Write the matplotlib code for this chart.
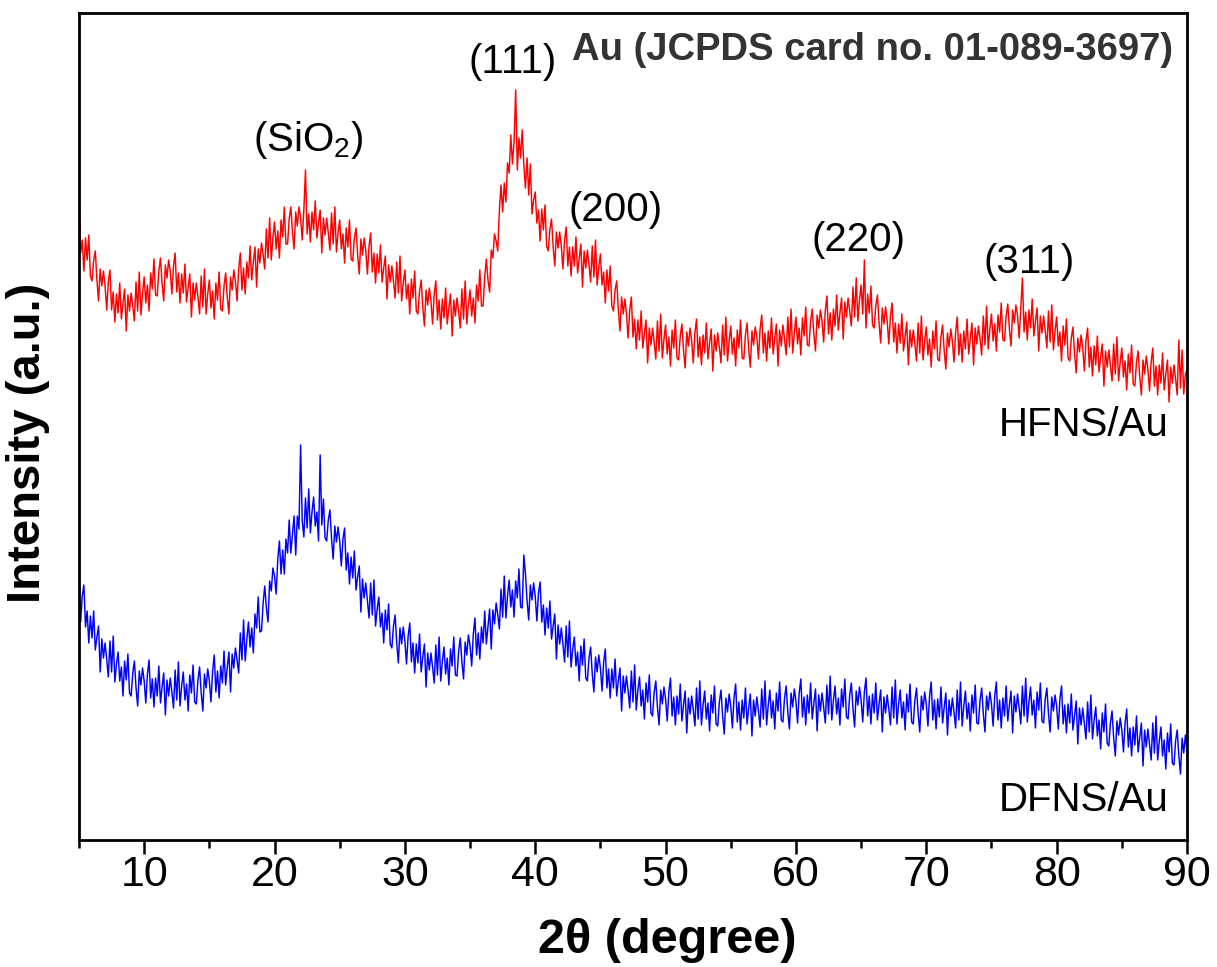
import numpy as np
import matplotlib.pyplot as plt

plt.rcParams['font.family'] = ['Liberation Sans', 'DejaVu Sans']
plt.rcParams['mathtext.fontset'] = 'custom'
plt.rcParams['mathtext.rm'] = 'Liberation Sans'

# 2-theta scan, 5 to 90 degree in 0.125 degree steps
two_theta = np.arange(5.0, 90.0001, 0.125)

# HFNS/Au intensity (arbitrary units, offset trace), one row per degree
hfns_au = [
    650, 587, 600, 569, 602, 580, 605, 564,   # 5
    559, 580, 589, 560, 539, 571, 554, 569,   # 6
    554, 530, 558, 570, 530, 548, 518, 546,   # 7
    527, 557, 521, 537, 551, 509, 545, 529,   # 8
    547, 534, 519, 558, 529, 568, 525, 547,   # 9
    563, 537, 555, 529, 567, 551, 581, 545,   # 10
    544, 569, 582, 556, 539, 575, 562, 580,   # 11
    569, 546, 574, 587, 548, 567, 537, 566,   # 12
    547, 576, 538, 553, 566, 523, 557, 540,   # 13
    557, 543, 526, 564, 533, 571, 526, 546,   # 14
    560, 532, 549, 521, 557, 540, 568, 531,   # 15
    529, 554, 567, 543, 526, 563, 550, 570,   # 16
    559, 539, 571, 587, 550, 572, 546, 578,   # 17
    562, 594, 560, 578, 593, 553, 591, 577,   # 18
    597, 585, 571, 611, 582, 622, 580, 602,   # 19
    618, 591, 609, 582, 620, 603, 633, 596,   # 20
    596, 621, 633, 608, 591, 628, 614, 633,   # 21
    622, 600, 630, 670, 606, 626, 598, 628,   # 22
    610, 639, 602, 617, 630, 587, 622, 605,   # 23
    622, 607, 590, 627, 596, 633, 588, 607,   # 24
    620, 591, 606, 577, 612, 593, 620, 581,   # 25
    579, 602, 612, 585, 566, 601, 585, 602,   # 26
    589, 566, 594, 607, 568, 587, 557, 586,   # 27
    567, 595, 558, 572, 584, 541, 575, 558,   # 28
    574, 559, 542, 578, 547, 584, 539, 557,   # 29
    570, 541, 556, 526, 561, 542, 569, 529,   # 30
    526, 549, 560, 533, 514, 550, 535, 552,   # 31
    539, 516, 546, 559, 520, 540, 511, 541,   # 32
    522, 552, 516, 532, 546, 504, 540, 524,   # 33
    542, 528, 512, 551, 521, 559, 516, 536,   # 34
    550, 524, 542, 517, 555, 539, 570, 534,   # 35
    534, 563, 581, 560, 548, 590, 582, 606,   # 36
    599, 589, 630, 655, 628, 657, 638, 677,   # 37
    667, 705, 676, 698, 750, 670, 702, 682,   # 38
    710, 675, 652, 682, 645, 676, 626, 640,   # 39
    648, 617, 630, 599, 631, 610, 635, 594,   # 40
    589, 611, 621, 593, 574, 608, 592, 608,   # 41
    594, 571, 600, 613, 574, 593, 564, 593,   # 42
    574, 603, 567, 582, 596, 553, 589, 572,   # 43
    590, 575, 558, 594, 563, 600, 555, 573,   # 44
    586, 555, 568, 537, 570, 549, 574, 534,   # 45
    529, 550, 559, 530, 509, 543, 526, 541,   # 46
    526, 502, 530, 543, 503, 521, 491, 520,   # 47
    500, 529, 492, 507, 520, 477, 512, 495,   # 48
    512, 498, 481, 519, 489, 526, 482, 501,   # 49
    515, 486, 503, 474, 510, 492, 520, 482,   # 50
    480, 504, 516, 490, 472, 508, 494, 512,   # 51
    499, 477, 507, 521, 483, 503, 475, 505,   # 52
    487, 517, 481, 497, 511, 469, 505, 489,   # 53
    507, 493, 477, 515, 485, 523, 479, 499,   # 54
    514, 486, 502, 474, 510, 492, 520, 482,   # 55
    481, 505, 517, 491, 473, 509, 495, 513,   # 56
    503, 481, 511, 525, 487, 507, 479, 509,   # 57
    492, 522, 486, 502, 516, 474, 510, 494,   # 58
    515, 501, 485, 523, 493, 531, 487, 507,   # 59
    523, 496, 512, 485, 522, 504, 533, 495,   # 60
    494, 519, 531, 506, 489, 525, 512, 530,   # 61
    519, 498, 529, 544, 506, 527, 500, 531,   # 62
    514, 545, 510, 527, 542, 501, 538, 523,   # 63
    542, 529, 514, 553, 523, 562, 519, 540,   # 64
    555, 526, 580, 512, 546, 527, 554, 515,   # 65
    512, 534, 545, 517, 497, 532, 516, 533,   # 66
    519, 496, 524, 537, 498, 517, 487, 516,   # 67
    497, 526, 489, 504, 518, 475, 510, 493,   # 68
    510, 496, 479, 517, 487, 524, 480, 499,   # 69
    513, 485, 501, 473, 509, 491, 519, 481,   # 70
    479, 503, 515, 489, 471, 507, 493, 511,   # 71
    499, 478, 508, 523, 485, 506, 478, 509,   # 72
    491, 521, 486, 502, 517, 475, 512, 496,   # 73
    514, 501, 485, 524, 495, 534, 491, 511,   # 74
    526, 499, 516, 489, 525, 508, 537, 500,   # 75
    499, 524, 536, 511, 494, 530, 517, 535,   # 76
    524, 502, 532, 562, 508, 528, 500, 530,   # 77
    512, 541, 504, 519, 532, 489, 524, 507,   # 78
    524, 509, 492, 529, 498, 535, 490, 509,   # 79
    523, 494, 508, 479, 514, 495, 521, 482,   # 80
    479, 502, 513, 486, 467, 502, 488, 505,   # 81
    492, 469, 499, 512, 473, 493, 464, 494,   # 82
    475, 504, 468, 483, 496, 454, 489, 473,   # 83
    490, 475, 459, 496, 466, 503, 459, 478,   # 84
    492, 463, 479, 450, 486, 467, 495, 456,   # 85
    454, 478, 489, 463, 445, 480, 466, 484,   # 86
    471, 449, 478, 492, 454, 474, 445, 475,   # 87
    457, 487, 450, 466, 480, 438, 473, 457,   # 88
    475, 461, 445, 500, 452, 490, 446, 466,   # 89
    470,                                      # 90
]

# DFNS/Au intensity (arbitrary units), one row per degree
dfns_au = [
    268, 218, 244, 255, 213, 229, 197, 224,   # 5
    202, 229, 190, 203, 214, 168, 201, 182,   # 6
    197, 181, 163, 199, 168, 204, 158, 176,   # 7
    188, 159, 173, 144, 179, 160, 186, 147,   # 8
    144, 167, 179, 152, 134, 169, 155, 172,   # 9
    159, 137, 166, 180, 142, 161, 133, 162,   # 10
    144, 174, 137, 153, 167, 125, 160, 144,   # 11
    162, 148, 132, 170, 140, 178, 134, 154,   # 12
    168, 140, 156, 129, 165, 147, 175, 138,   # 13
    136, 160, 173, 147, 129, 166, 152, 171,   # 14
    159, 138, 169, 185, 148, 169, 142, 174,   # 15
    157, 189, 155, 173, 188, 148, 186, 172,   # 16
    192, 180, 167, 207, 180, 220, 179, 201,   # 17
    218, 193, 212, 187, 226, 212, 243, 208,   # 18
    209, 237, 254, 232, 218, 259, 249, 272,   # 19
    264, 246, 281, 299, 266, 290, 266, 301,   # 20
    287, 320, 287, 306, 324, 285, 324, 311,   # 21
    395, 319, 303, 342, 312, 351, 307, 328,   # 22
    343, 314, 328, 299, 385, 315, 341, 302,   # 23
    299, 320, 330, 301, 281, 314, 298, 313,   # 24
    299, 274, 301, 312, 270, 287, 256, 283,   # 25
    262, 289, 250, 263, 274, 228, 261, 242,   # 26
    257, 240, 222, 257, 225, 260, 214, 231,   # 27
    243, 213, 227, 197, 230, 210, 236, 196,   # 28
    192, 214, 225, 197, 177, 212, 196, 213,   # 29
    199, 176, 204, 217, 178, 197, 167, 196,   # 30
    177, 206, 168, 183, 196, 153, 187, 170,   # 31
    187, 173, 157, 195, 165, 203, 159, 179,   # 32
    193, 166, 182, 155, 191, 174, 203, 165,   # 33
    164, 189, 202, 178, 161, 198, 185, 205,   # 34
    194, 174, 206, 222, 185, 207, 181, 213,   # 35
    197, 229, 196, 214, 231, 191, 230, 216,   # 36
    237, 225, 211, 251, 223, 264, 222, 244,   # 37
    260, 233, 250, 223, 259, 242, 271, 233,   # 38
    232, 285, 266, 239, 220, 255, 240, 257,   # 39
    244, 219, 247, 258, 218, 235, 205, 232,   # 40
    212, 239, 201, 214, 226, 181, 215, 196,   # 41
    212, 196, 178, 214, 183, 219, 173, 191,   # 42
    203, 174, 188, 159, 194, 175, 201, 162,   # 43
    159, 182, 193, 166, 148, 183, 168, 185,   # 44
    172, 149, 178, 191, 152, 171, 142, 171,   # 45
    152, 181, 144, 159, 172, 129, 164, 147,   # 46
    164, 149, 132, 169, 138, 175, 130, 150,   # 47
    163, 134, 150, 121, 157, 138, 165, 127,   # 48
    124, 148, 159, 133, 115, 150, 136, 153,   # 49
    141, 119, 148, 162, 124, 143, 115, 144,   # 50
    126, 156, 119, 135, 149, 107, 142, 126,   # 51
    144, 130, 114, 152, 121, 159, 115, 135,   # 52
    149, 121, 137, 109, 145, 127, 154, 116,   # 53
    114, 138, 150, 124, 106, 142, 128, 146,   # 54
    134, 112, 142, 156, 118, 138, 110, 140,   # 55
    122, 152, 116, 132, 146, 104, 140, 124,   # 56
    143, 129, 113, 151, 121, 159, 115, 135,   # 57
    150, 122, 139, 111, 147, 129, 158, 120,   # 58
    118, 142, 154, 128, 111, 147, 133, 151,   # 59
    139, 117, 147, 161, 123, 143, 115, 145,   # 60
    127, 157, 121, 137, 151, 109, 145, 129,   # 61
    147, 133, 117, 155, 126, 164, 120, 140,   # 62
    154, 126, 142, 115, 151, 133, 161, 123,   # 63
    121, 145, 157, 131, 113, 149, 135, 153,   # 64
    140, 118, 148, 162, 124, 144, 116, 146,   # 65
    127, 157, 120, 136, 150, 108, 143, 127,   # 66
    145, 131, 115, 153, 122, 160, 116, 136,   # 67
    150, 122, 138, 110, 146, 128, 156, 118,   # 68
    116, 140, 152, 126, 108, 144, 130, 148,   # 69
    136, 114, 144, 158, 120, 140, 111, 141,   # 70
    123, 153, 117, 133, 147, 105, 140, 124,   # 71
    142, 128, 112, 150, 120, 158, 114, 134,   # 72
    149, 121, 137, 109, 145, 127, 155, 117,   # 73
    116, 140, 152, 126, 108, 144, 130, 148,   # 74
    136, 114, 144, 158, 120, 140, 112, 142,   # 75
    124, 154, 119, 135, 149, 107, 144, 128,   # 76
    146, 132, 116, 154, 124, 162, 118, 138,   # 77
    153, 125, 140, 112, 148, 130, 157, 119,   # 78
    117, 141, 152, 126, 108, 143, 129, 145,   # 79
    134, 111, 141, 154, 116, 135, 107, 136,   # 80
    117, 146, 110, 125, 139,  96, 132, 115,   # 81
    132, 117, 101, 138, 108, 145, 101, 120,   # 82
    133, 104, 120,  91, 127, 108, 136,  97,   # 83
     94, 117, 129, 102,  84, 119, 105, 122,   # 84
    110,  88, 117, 131,  93, 112,  84, 113,   # 85
     95, 124,  88, 103, 117,  74, 110,  93,   # 86
    111,  96,  80, 117,  87, 124,  80,  99,   # 87
    113,  84, 100,  71, 107,  88, 116,  77,   # 88
     75,  99, 110,  84,  66, 102,  87, 105,   # 89
     88,                                      # 90
]

# Reflection labels: text, 2-theta position, height
peak_labels = ['(SiO$_2$)', '(111)', '(200)', '(220)', '(311)']
peak_x = [22.6, 38.3, 46.2, 64.8, 77.9]
peak_y = [700, 778, 630, 600, 578]

sample_names = ['HFNS/Au', 'DFNS/Au']
sample_y = [415, 40]

x_ticks = [10, 20, 30, 40, 50, 60, 70, 80, 90]

fig = plt.figure(figsize=(12.17, 9.67), dpi=100)
ax = fig.add_axes([79 / 1217, 1 - 840 / 967, (1187 - 79) / 1217, (840 - 13) / 967])

ax.plot(two_theta, hfns_au, color='#ff0000', lw=1.05)
ax.plot(two_theta, dfns_au, color='#0000ff', lw=1.05)

ax.set_xlim(5, 90)
ax.set_ylim(0, 827)
ax.set_xticks(x_ticks)
ax.set_xticks(np.arange(5, 91, 10), minor=True)
ax.set_yticks([])

ax.tick_params(axis='x', which='major', direction='out', length=10, width=1.8,
               labelsize=31, pad=1)
ax.tick_params(axis='x', which='minor', direction='out', length=6, width=1.8)
for sp in ax.spines.values():
    sp.set_linewidth(2.0)

ax.set_xlabel('2θ (degree)', fontsize=35, fontweight='bold')
ax.xaxis.set_label_coords(0.531, -0.094)
ax.set_ylabel('Intensity (a.u.)', fontsize=34, fontweight='bold')
ax.yaxis.set_label_coords(-0.026, 0.48)

for lab, px, py in zip(peak_labels, peak_x, peak_y):
    ax.text(px, py, lab, fontsize=29, ha='center', va='center')

for name, py in zip(sample_names, sample_y):
    ax.text(88.6, py, name, fontsize=29, ha='right', va='center')

ax.text(88.9, 790, 'Au (JCPDS card no. 01-089-3697)', fontsize=27.5,
        fontweight='bold', color='#333333', ha='right', va='center')

fig.savefig('out.png', dpi=100)
